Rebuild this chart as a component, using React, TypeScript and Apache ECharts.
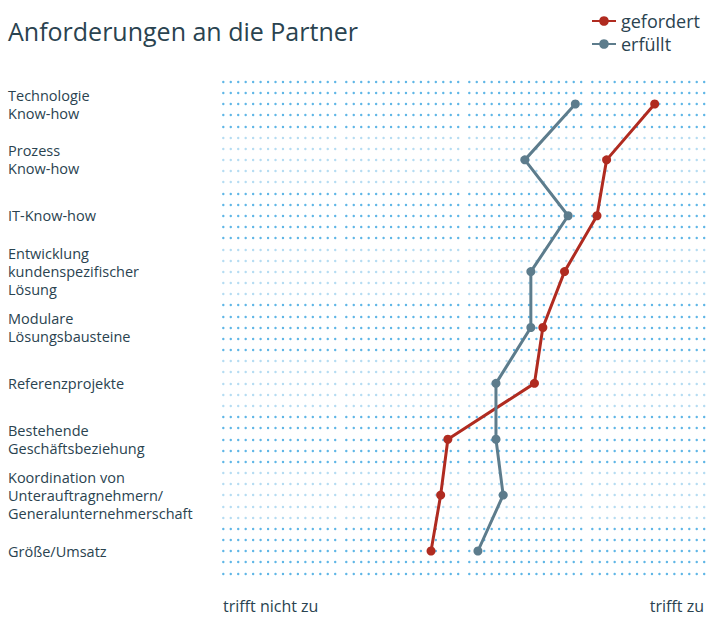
import React, { useEffect, useRef } from "react";
import * as echarts from "echarts";

const categories = [
  "Technologie\nKnow-how",
  "Prozess\nKnow-how",
  "IT-Know-how",
  "Entwicklung\nkundenspezifischer\nLösung",
  "Modulare\nLösungsbausteine",
  "Referenzprojekte",
  "Bestehende\nGeschäftsbeziehung",
  "Koordination von\nUnterauftragnehmern/\nGeneralunternehmerschaft",
  "Größe/Umsatz",
];
const gefordert = [3.59, 3.19, 3.11, 2.84, 2.66, 2.59, 1.87, 1.81, 1.73];
const erfuellt = [2.93, 2.51, 2.87, 2.56, 2.56, 2.27, 2.27, 2.33, 2.12];
const seriesNames = ["gefordert", "erfüllt"];
const xTickLabels = ["trifft nicht zu", "trifft zu"];
const titleText = "Anforderungen an die Partner";

const FONT = "'Open Sans', 'Noto Sans', sans-serif";
const TEXT = "#2a4350";
const RED = "#b02b20";
const GREY = "#5d7c8c";

export default function App() {
  const ref = useRef<HTMLDivElement>(null);
  useEffect(() => {
    if (!ref.current) return;
    const chart = echarts.init(ref.current, null, { renderer: "svg" });
    const rowStep = 11.175;
    const firstRow = 81.65;
    const lastRow = firstRow + 44 * rowStep;
    const blockStarts = [223.3, 346.3, 469.3, 592.3];
    const blockW = 112;
    const dark = "#5fb6e6";
    const light = "#b5dcf2";
    const rowColors = [dark, dark, dark, dark, dark, light, light, light, light, light];

    const grids: any[] = blockStarts.map((l) => ({
      left: l,
      width: blockW,
      top: firstRow,
      bottom: 622 - lastRow,
    }));
    grids.push({
      left: 223,
      right: 3,
      top: firstRow - rowStep / 2,
      bottom: 622 - (lastRow + rowStep / 2),
    });

    const xAxes: any[] = blockStarts.map((_, i) => ({
      gridIndex: i,
      type: "value",
      min: 0,
      max: 1,
      show: false,
    }));
    const yAxes: any[] = blockStarts.map((_, i) => ({
      gridIndex: i,
      type: "value",
      min: 0,
      max: 44,
      interval: 1,
      axisLine: { show: false },
      axisTick: { show: false },
      axisLabel: { show: false },
      splitLine: {
        show: true,
        lineStyle: {
          color: rowColors,
          width: 2.4,
          type: [0.01, 7.45],
          cap: "round",
        },
      },
    }));
    xAxes.push({
      gridIndex: 4,
      type: "value",
      min: 0,
      max: 4,
      interval: 4,
      axisLine: { show: false },
      axisTick: { show: false },
      splitLine: { show: false },
      axisLabel: {
        show: true,
        margin: 19,
        fontFamily: FONT,
        fontSize: 16,
        color: TEXT,
        formatter: (v: number) => (v === 0 ? xTickLabels[0] : xTickLabels[1]),
        alignMinLabel: "left",
        alignMaxLabel: "right",
      },
    });
    yAxes.push({
      gridIndex: 4,
      type: "category",
      data: categories,
      inverse: true,
      boundaryGap: true,
      axisLine: { show: false },
      axisTick: { show: false },
      splitLine: { show: false },
      axisLabel: {
        show: true,
        align: "left",
        margin: 215,
        fontFamily: FONT,
        fontSize: 14.5,
        lineHeight: 18,
        color: TEXT,
        interval: 0,
      },
    });

    const mk = (name: string, data: number[], color: string) => ({
      name,
      type: "line",
      xAxisIndex: 4,
      yAxisIndex: 4,
      data: data.map((v, i) => [v, i]),
      symbol: "circle",
      symbolSize: 9,
      lineStyle: { color, width: 3 },
      itemStyle: { color },
      z: 5,
    });

    chart.setOption({
      animation: false,
      backgroundColor: "#ffffff",
      title: {
        text: titleText,
        left: 3,
        top: 13,
        textStyle: {
          fontFamily: FONT,
          fontSize: 25,
          fontWeight: "normal",
          color: TEXT,
        },
      },
      legend: {
        data: seriesNames,
        orient: "vertical",
        right: 2,
        top: 7,
        itemWidth: 24,
        itemHeight: 12,
        itemGap: 5,
        textStyle: { fontFamily: FONT, fontSize: 18, color: TEXT },
      },
      grid: grids,
      xAxis: xAxes,
      yAxis: yAxes,
      series: [mk(seriesNames[0], gefordert, RED), mk(seriesNames[1], erfuellt, GREY)],
    });
    return () => chart.dispose();
  }, []);
  return (
    <div
      ref={ref}
      style={{ position: "absolute", left: 0, top: 0, width: 707, height: 622 }}
    />
  );
}
